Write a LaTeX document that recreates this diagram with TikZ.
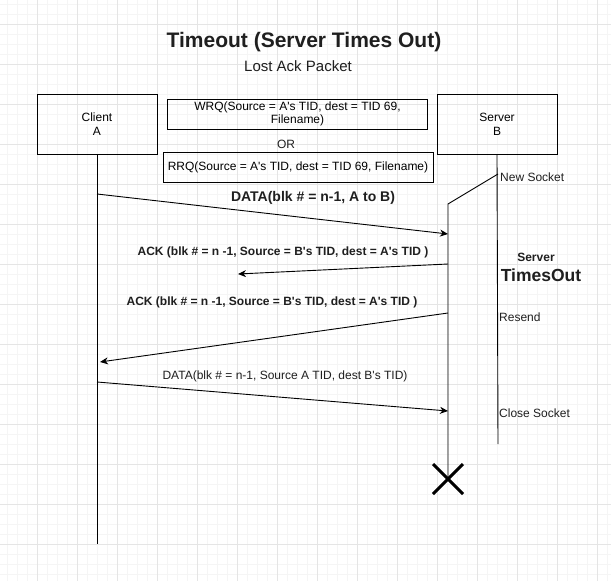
\documentclass[tikz,border=0pt]{standalone}
\usepackage{fontspec}
\setmainfont{Liberation Sans}
\usepackage{tikz}
\usepackage{tkz-euclide}
\usetikzlibrary{calc,arrows.meta}
\newcommand{\ap}{\textquotesingle}
\tikzset{
  minorgrid/.style={draw=black!4,line width=0.6pt},
  majorgrid/.style={draw=black!10,line width=0.8pt},
  box/.style={draw,line width=0.9pt,inner sep=0pt,align=center,font=\fontsize{12}{14}\selectfont},
  life/.style={line width=0.9pt},
  msg/.style={line width=0.9pt,-{Stealth[length=8pt,width=7pt,inset=2.5pt]}},
  txt/.style={inner sep=0pt,text=black!88,font=\fontsize{12}{14}\selectfont},
  btxt/.style={txt,font=\fontsize{12}{14}\selectfont\bfseries}
}

\begin{document}
\begin{tikzpicture}[x=1pt,y=-1pt]
\useasboundingbox (0,0) rectangle (611,581);
\fill[white] (0,0) rectangle (611,581);
% grid
\foreach \gx in {7,17,...,607} \draw[minorgrid] (\gx,0) -- (\gx,581);
\foreach \gy in {4,14,...,574} \draw[minorgrid] (0,\gy) -- (611,\gy);
\foreach \gx in {37,77,...,597} \draw[majorgrid] (\gx,0) -- (\gx,581);
\foreach \gy in {24,64,...,564} \draw[majorgrid] (0,\gy) -- (611,\gy);
% points
\tkzDefPoint(97,544){A}
\tkzDefPoint(498,444){B}
\tkzDefPoint(498,174){N}
\tkzDefPoint(448,204){K}
\tkzDefPoint(448,479){X}
\tkzDefPoint(433,464){X1}
\tkzDefPoint(463,494){X2}
\tkzDefPoint(433,494){X3}
\tkzDefPoint(463,464){X4}
\tkzDefPoint(97,194){D}
\tkzDefPoint(448,234){E}
\tkzDefPoint(448,264){F}
\tkzDefPoint(238,274){G}
\tkzDefPoint(448,313){H}
\tkzDefPoint(100,362){I}
\tkzDefPoint(97,382){J}
\tkzDefPoint(448,411){L}
% title
\node[btxt,font=\fontsize{21}{24}\selectfont\bfseries] (title) at (304,42) {Timeout (Server Times Out)};
\node[txt,font=\fontsize{15}{18}\selectfont] (sub) at (298,66) {Lost Ack Packet};
% boxes
\node[box,minimum width=120pt,minimum height=60pt] (client) at (97,124) {Client\\A};
\node[box,minimum width=120pt,minimum height=60pt] (server) at (497,124) {Server\\B};
\node[box,minimum width=260pt,minimum height=30pt,font=\fontsize{12}{13.5}\selectfont] (wrq) at (297.5,114) {WRQ(Source = A\ap s TID, dest = TID 69,\\Filename)};
\node[txt] (or) at (286,144) {OR};
\node[box,minimum width=270pt,minimum height=30pt] (rrq) at (298,167) {RRQ(Source = A\ap s TID, dest = TID 69, Filename)};
% lifelines
\draw[life] (client.south) -- (A);
\draw[life] (server.south) -- (B);
\draw[life] (N) -- (K) -- (X);
\draw[line width=3pt] (X1) -- (X2) (X3) -- (X4);
% messages
\draw[msg] (D) -- (E);
\draw[msg] (F) -- (G);
\draw[msg] (H) -- (I);
\draw[msg] (J) -- (L);
\node[btxt,font=\fontsize{14}{16}\selectfont\bfseries] (data1) at (313,198) {DATA(blk \# = n-1, A to B)};
\node[btxt] (ack1) at (283,252) {ACK (blk \# = n -1, Source = B\ap s TID, dest = A\ap s TID )};
\node[btxt] (ack2) at (272,302) {ACK (blk \# = n -1, Source = B\ap s TID, dest = A\ap s TID )};
\node[txt] (data2) at (285,376) {DATA(blk \# = n-1, Source A TID, dest B\ap s TID)};
% server notes
\node[txt,anchor=west] (newsock) at (500,177) {New Socket};
\node[btxt] (srv) at (536,257) {Server};
\node[btxt,font=\fontsize{17.5}{20}\selectfont\bfseries] (tout) at (541,275) {TimesOut};
\node[txt,anchor=west] (resend) at (499,317) {Resend};
\node[txt,anchor=west] (close) at (499,413) {Close Socket};
\end{tikzpicture}
\end{document}
